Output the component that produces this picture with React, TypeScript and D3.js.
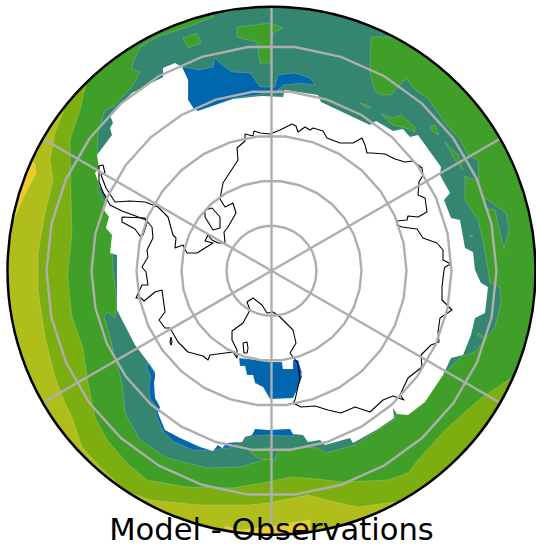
import React, { useEffect, useRef } from 'react';
import * as d3 from 'd3';

type Pt = [number, number];

// digitised map outlines, in reference map coordinates
const yellowWest: Pt[] = [[35,163],[36,173],[22,200],[15,217],[5,235],[0,160]];
const yellowSouth: Pt[] = [[225,526],[240,530],[268,527],[298,522],[310,520],[310,545],[225,545]];

const lightBand: Pt[] = [[63,112],[55,133],[50,160],[53,180],[45,213],[38,253],[38,272],[38,290],[45,337],[55,377],[65,403],[72,417],[82,447],[100,467],[127,492],[150,500],[200,505],[250,505],[268,503],[308,495],[335,502],[358,507],[395,502],[460,520],[540,400],[560,200],[450,20],[270,-10],[100,40]];

const greenBand: Pt[] = [[86,84],[80,110],[70,140],[71,200],[72,233],[68,272],[68,280],[72,317],[83,348],[85,363],[88,383],[95,417],[107,440],[127,463],[147,480],[187,487],[233,488],[268,482],[291,477],[318,479],[341,482],[388,480],[408,473],[418,460],[445,430],[481,398],[513,377],[540,370],[560,100],[300,-20],[60,60]];

const tealBand: Pt[] = [[213,17],[187,27],[157,37],[140,47],[133,63],[131,69],[140,72],[132,87],[113,107],[105,110],[98,133],[97,155],[115,170],[110,185],[97,187],[103,200],[108,203],[120,215],[120,250],[112,253],[113,270],[117,303],[115,318],[107,312],[104,317],[110,337],[115,358],[122,383],[125,413],[140,440],[167,458],[207,468],[240,467],[270,458],[275,460],[278,450],[305,447],[318,448],[326,453],[355,445],[378,430],[394,420],[400,405],[425,395],[445,373],[461,357],[475,352],[495,327],[501,303],[500,287],[490,283],[488,270],[483,240],[478,220],[465,200],[465,176],[479,182],[478,160],[468,155],[460,140],[445,123],[428,98],[415,90],[406,78],[391,95],[383,95],[375,92],[370,73],[371,37],[393,37],[385,5],[213,5]];

const tealEast: Pt[] = [[483,197],[488,200],[506,213],[509,230],[504,249],[500,233],[495,210],[485,208]];

const greenPatches: Pt[][] = [
  [[183,38],[197,33],[201,43],[188,48]],
  [[237,27],[270,23],[283,28],[273,33],[270,63],[260,63],[257,42],[237,37]],
  [[250,452],[263,448],[270,448],[270,460],[258,458]],
  [[360,103],[366,105],[371,108],[365,107]],
  [[381,114],[393,118],[401,115],[415,127],[415,132],[403,127],[393,125]],
  [[430,126],[435,125],[439,135],[433,132]],
  [[445,142],[458,155],[463,170],[455,160]],
  [[470,235],[473,235],[471,237]],
  [[478,333],[486,338],[485,340],[477,335]],
];

const blueNorth: Pt[] = [[182,67],[200,70],[213,67],[215,58],[222,65],[232,72],[250,73],[260,87],[268,87],[275,87],[278,75],[295,73],[310,78],[315,85],[301,83],[283,85],[275,93],[268,92],[262,94],[235,98],[198,111],[194,110],[188,100],[188,80]];
const blueSliver: Pt[] = [[155,79],[163,74],[164,77],[156,81]];
const blueSouth: Pt[] = [[148,362],[147,367],[151,377],[149,384],[150,398],[157,408],[156,415],[163,431],[173,441],[193,450],[216,450],[222,448],[228,448],[240,442],[250,436],[268,435],[293,436],[293,428],[255,426],[200,420],[170,400]];
const blueRoss: Pt[] = [[239,358],[249,359],[270,362],[282,362],[283,369],[293,369],[293,360],[298,360],[302,377],[298,388],[293,398],[273,399],[270,399],[263,387],[255,383],[253,375],[247,375],[245,366],[240,366]];
const brightRoss: Pt[] = [[296,362],[298,360],[302,373],[300,374],[297,368]];

const noData: Pt[] = [[198,111],[233,99],[262,96],[283,97],[285,90],[318,95],[321,102],[370,125],[376,121],[393,131],[403,129],[410,137],[418,135],[441,167],[440,175],[450,193],[444,200],[451,218],[460,220],[465,248],[473,252],[475,270],[481,283],[488,287],[485,313],[475,318],[471,335],[463,355],[451,358],[443,375],[425,402],[408,415],[397,414],[393,408],[394,418],[378,429],[353,443],[350,438],[325,445],[320,440],[308,442],[303,435],[293,434],[290,429],[268,430],[255,429],[252,435],[245,437],[242,442],[227,443],[222,448],[218,445],[213,451],[200,447],[180,438],[165,430],[158,413],[160,407],[155,398],[154,383],[155,377],[155,372],[148,362],[135,345],[117,310],[117,272],[117,255],[110,253],[112,235],[106,228],[109,217],[104,210],[108,199],[100,187],[95,173],[99,168],[97,155],[112,135],[110,128],[113,123],[110,115],[132,93],[163,77],[163,68],[175,63],[182,67],[188,80],[188,100],[194,109]];

const coast: Pt[] = [[270,134],[280,130],[292,124],[296,126],[298,132],[305,127],[310,130],[313,128],[323,131],[327,138],[340,143],[353,143],[362,138],[365,145],[367,153],[372,153],[385,154],[395,159],[405,162],[413,161],[422,168],[423,175],[419,182],[418,195],[425,198],[427,212],[418,217],[408,216],[407,220],[397,221],[397,225],[402,227],[417,229],[423,238],[437,243],[443,250],[443,260],[451,264],[445,267],[444,270],[442,287],[442,300],[452,310],[440,318],[438,332],[439,342],[431,345],[421,355],[422,367],[408,378],[400,395],[404,400],[393,396],[383,400],[370,412],[355,407],[341,413],[328,410],[315,406],[301,407],[293,403],[295,400],[300,378],[297,362],[290,353],[296,343],[293,330],[280,317],[273,312],[267,313],[262,305],[253,298],[247,302],[250,310],[243,323],[232,331],[232,340],[237,350],[237,358],[233,352],[210,355],[208,360],[203,356],[188,352],[178,342],[170,328],[165,328],[159,320],[165,312],[162,290],[155,292],[144,301],[141,298],[136,298],[142,285],[148,285],[146,272],[142,267],[148,257],[147,250],[153,238],[152,227],[146,220],[133,215],[122,211],[110,205],[103,192],[99,182],[99,166],[103,165],[105,173],[101,175],[106,188],[115,202],[130,201],[145,202],[158,207],[168,217],[173,235],[176,238],[175,248],[183,245],[187,253],[197,253],[205,248],[213,243],[205,241],[208,235],[212,240],[218,243],[225,243],[224,232],[228,227],[236,213],[233,203],[225,207],[220,199],[223,183],[238,160],[237,148],[245,141],[245,134],[253,136],[254,131],[260,133],[270,134]];

const coastIslands: Pt[][] = [
  [[122,217],[145,218],[147,223],[143,235],[140,236],[135,229],[122,222],[122,217]],
  [[205,210],[212,208],[220,217],[220,228],[213,230],[205,217],[205,210]],
  [[243,343],[247,342],[248,348],[247,353],[244,353],[243,343]],
  [[171,337],[172,342],[171,345],[170,342],[171,337]],
];

const ringLats = [-80, -70, -60, -50, -40];
const spokeLons = [0, 60, 120, 180, 240, 300];
const ringLonStep = 12;
const ringLonStart = 6;
const edgeLat = -31.33;
const title = 'Model - Observations';

const App: React.FC = () => {
  const svgRef = useRef<SVGSVGElement>(null);

  useEffect(() => {
    if (!svgRef.current) return;
    const svg = d3.select(svgRef.current);
    svg.selectAll('*').remove();

    const cx = 271.5;
    const cy = 270.8;
    const radius = 264;

    const xScale = d3.scaleLinear().domain([8, 536]).range([8, 536]);
    const yScale = d3.scaleLinear().domain([7, 535]).range([7, 535]);
    const rScale = d3.scaleLinear().domain([-90, edgeLat]).range([0, radius]);

    const outline = d3
      .line<Pt>()
      .x((d) => xScale(d[0]))
      .y((d) => yScale(d[1]));
    const closed = (pts: Pt[]) => outline(pts) + 'Z';

    svg
      .append('clipPath')
      .attr('id', 'disc')
      .append('circle')
      .attr('cx', cx)
      .attr('cy', cy)
      .attr('r', radius - 1);

    const map = svg.append('g').attr('clip-path', 'url(#disc)');

    const fill = (pts: Pt[], color: string) =>
      map
        .append('path')
        .attr('d', closed(pts))
        .attr('fill', color)
        .attr('stroke', 'rgba(255,255,255,0.3)')
        .attr('stroke-width', 0.6);

    // filled contours, outermost first
    map
      .append('circle')
      .attr('cx', cx)
      .attr('cy', cy)
      .attr('r', radius)
      .attr('fill', '#b0be1b');
    fill(yellowWest, '#eccb2a');
    fill(yellowSouth, '#eccb2a');
    fill(lightBand, '#7cae12');
    fill(greenBand, '#3f9f28');
    fill(tealBand, '#358670');
    fill(tealEast, '#358670');
    greenPatches.forEach((p) => fill(p, '#3f9f28'));
    fill(blueNorth, '#0066ae');
    fill(blueSliver, '#0066ae');
    fill(blueSouth, '#0066ae');

    // no data over the ice
    map.append('path').attr('d', closed(noData)).attr('fill', '#ffffff');

    fill(blueRoss, '#0066ae');
    fill(brightRoss, '#0a3de0');

    // coastline
    [coast, ...coastIslands].forEach((p) => {
      map
        .append('path')
        .attr('d', outline(p))
        .attr('fill', 'none')
        .attr('stroke', '#000')
        .attr('stroke-width', 1.1)
        .attr('stroke-linejoin', 'round');
    });

    // graticule
    const toXY = (lon: number, lat: number): Pt => {
      const a = (lon * Math.PI) / 180;
      const r = rScale(lat);
      return [cx + r * Math.sin(a), cy - r * Math.cos(a)];
    };
    const grid = map
      .append('g')
      .attr('fill', 'none')
      .attr('stroke', '#aeaeae')
      .attr('stroke-width', 2.4);
    const ringLons = d3.range(ringLonStart, 360 + ringLonStart, ringLonStep);
    const gridLine = d3.line<Pt>();
    ringLats.forEach((lat) => {
      grid
        .append('path')
        .attr('d', gridLine(ringLons.map((lon) => toXY(lon, lat))) + 'Z');
    });
    spokeLons.forEach((lon) => {
      grid.append('path').attr('d', gridLine([toXY(lon, -90), toXY(lon, edgeLat)]));
    });

    svg
      .append('circle')
      .attr('cx', cx)
      .attr('cy', cy)
      .attr('r', radius)
      .attr('fill', 'none')
      .attr('stroke', '#000')
      .attr('stroke-width', 2.5);

    svg
      .append('text')
      .attr('x', cx)
      .attr('y', 540)
      .attr('text-anchor', 'middle')
      .attr('font-family', '"DejaVu Sans"')
      .attr('font-size', 30.6)
      .attr('fill', '#000')
      .text(title);
  }, []);

  return (
    <svg
      ref={svgRef}
      width={536}
      height={544}
      style={{ position: 'absolute', left: 0, top: 0, display: 'block' }}
    />
  );
};

export default App;
